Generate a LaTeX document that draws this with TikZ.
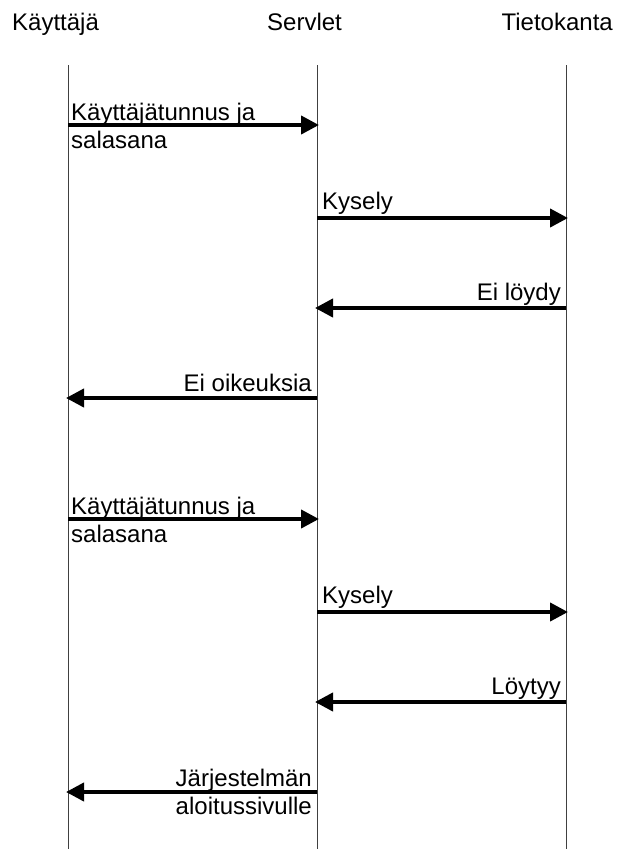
\documentclass[tikz,border=0pt]{standalone}
\usepackage{fontspec}
\setmainfont{Liberation Sans}
\usetikzlibrary{arrows.meta}
\tikzset{
  lbl/.style={inner sep=0pt, font=\fontsize{24}{28}\selectfont},
  lifeline/.style={draw=black!75, line width=1pt},
  msg/.style={line width=4pt, -{Triangle[length=18pt,width=18pt]}, shorten >=-2pt},
}
\begin{document}
\begin{tikzpicture}[x=1pt,y=-1pt]
\useasboundingbox (0,0) rectangle (619,849);
% headings
\node[lbl, anchor=base west] (hk) at (12,30) {Käyttäjä};
\node[lbl, anchor=base west] (hs) at (267,30) {Servlet};
\node[lbl, anchor=base east] (ht) at (613,30) {Tietokanta};
% lifelines
\coordinate (kt) at (68,65);  \coordinate (kb) at (68,849);
\coordinate (st) at (317,65); \coordinate (sb) at (317,849);
\coordinate (tt) at (566,65); \coordinate (tb) at (566,849);
\draw[lifeline] (kt) -- (kb);
\draw[lifeline] (st) -- (sb);
\draw[lifeline] (tt) -- (tb);
% message endpoints
\foreach \n/\y in {1/125,2/218,3/308,4/398,5/519,6/612,7/702,8/792}{
  \coordinate (k\n) at (68,\y);
  \coordinate (s\n) at (317,\y);
  \coordinate (t\n) at (566,\y);
}
% messages
\draw[msg] (k1) -- (s1);
\draw[msg] (s2) -- (t2);
\draw[msg] (t3) -- (s3);
\draw[msg] (s4) -- (k4);
\draw[msg] (k5) -- (s5);
\draw[msg] (s6) -- (t6);
\draw[msg] (t7) -- (s7);
\draw[msg] (s8) -- (k8);
% labels
\node[lbl, anchor=base west] (m1a) at (71,120) {Käyttäjätunnus ja};
\node[lbl, anchor=base west] (m1b) at (71,148) {salasana};
\node[lbl, anchor=base west] (m2) at (322,209) {Kysely};
\node[lbl, anchor=base east] (m3) at (561,300) {Ei löydy};
\node[lbl, anchor=base east] (m4) at (312,391) {Ei oikeuksia};
\node[lbl, anchor=base west] (m5a) at (71,514) {Käyttäjätunnus ja};
\node[lbl, anchor=base west] (m5b) at (71,542) {salasana};
\node[lbl, anchor=base west] (m6) at (322,603) {Kysely};
\node[lbl, anchor=base east] (m7) at (561,694) {Löytyy};
\node[lbl, anchor=base east] (m8a) at (312,786) {Järjestelmän};
\node[lbl, anchor=base east] (m8b) at (312,814) {aloitussivulle};
\end{tikzpicture}
\end{document}
